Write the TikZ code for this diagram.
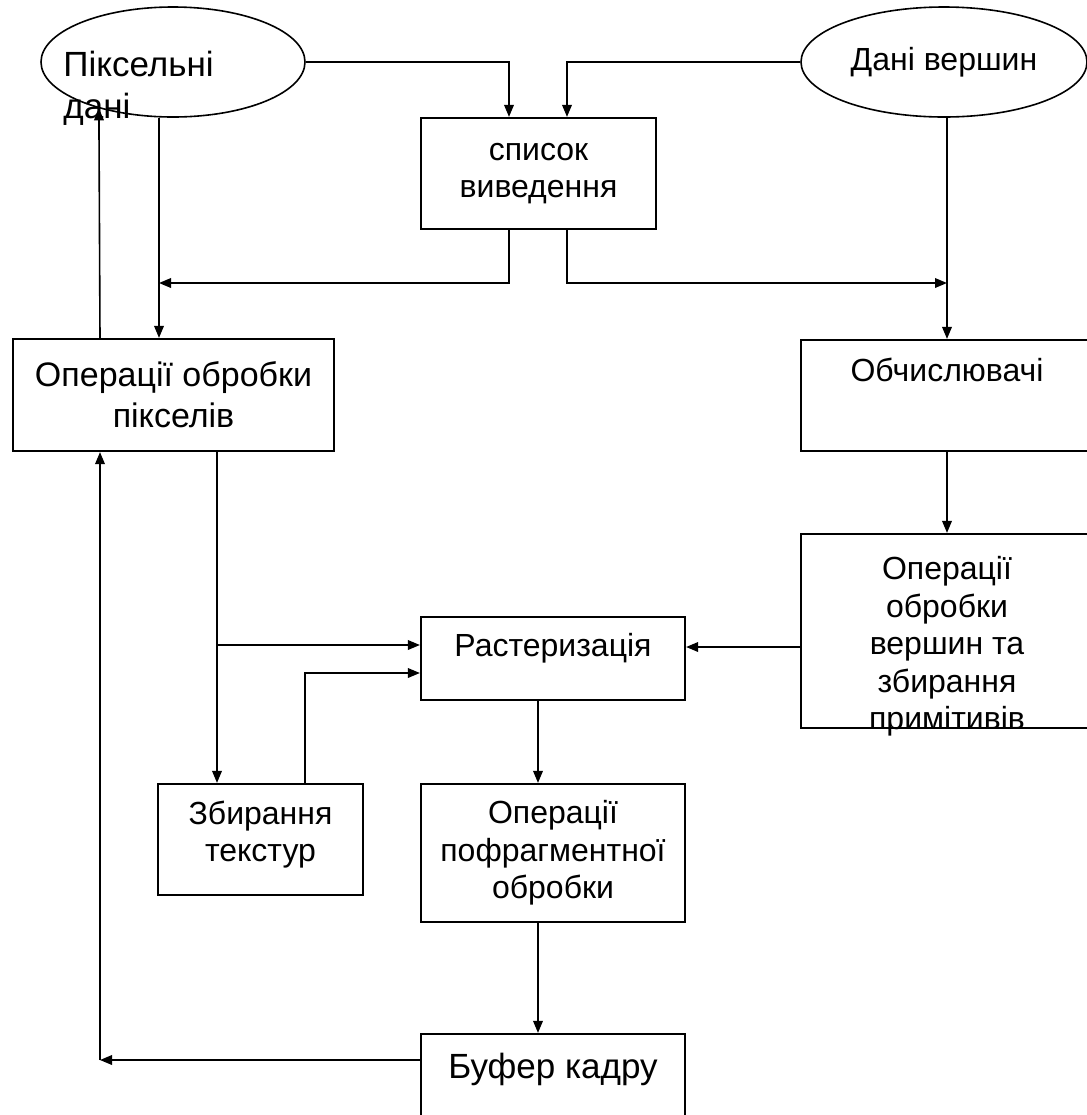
\documentclass[tikz,border=0pt]{standalone}
\usepackage{fontspec}
\setmainfont{Liberation Sans}
\usetikzlibrary{arrows.meta,shapes.geometric,calc}
\newcommand{\boxfont}{\fontsize{16pt}{18.75pt}\selectfont}
\newcommand{\bigboxfont}{\fontsize{17pt}{20.5pt}\selectfont}
\newcommand{\ovalfont}{\fontsize{17.5pt}{21pt}\selectfont}

\begin{document}
\begin{tikzpicture}[x=0.5pt,y=-0.5pt,font=\boxfont,
  >={Triangle[length=6pt,width=4.8pt]},
  blok/.style={draw,line width=1.1pt,align=center,inner sep=0pt},
  oval/.style={draw,ellipse,line width=0.8pt,inner sep=0pt,
    minimum height=55pt},
  link/.style={->,line width=0.8pt}]
  \useasboundingbox (0,0) rectangle (1087,1115);
  % sources
  \node[oval,minimum width=132pt] (pixdata) at (173,62) {};
  \node[anchor=north west,align=left,inner sep=0pt,font=\ovalfont]
    (pixtext) at (63,51) {Піксельні\\дані};
  \node[oval,minimum width=143pt] (vertdata) at (944,62) {Дані вершин};
  % blocks
  \node[blok,minimum width=117.5pt,minimum height=55.5pt] (spysok)
    at (538.5,173.5) {список\\виведення};
  \node[blok,font=\bigboxfont,minimum width=160.5pt,minimum height=56pt]
    (pixops) at (173.5,395) {Операції обробки\\пікселів};
  \node[blok,minimum width=146pt,minimum height=55.5pt,
    text height=12pt,text depth=26pt] (obch) at (947,395.5) {Обчислювачі};
  \node[blok,minimum width=146pt,minimum height=97pt,inner ysep=-9pt]
    (vertops) at (947,631)
    {\rule{0pt}{27pt}Операції\\обробки\\вершин та\\збирання\\примітивів};
  \node[blok,minimum width=132pt,minimum height=41.5pt,
    text height=12pt,text depth=14pt] (raster) at (553,658.5) {Растеризація};
  \node[blok,minimum width=102.5pt,minimum height=55.5pt] (textures)
    at (260.5,839.5) {Збирання\\текстур\rule[-8pt]{0pt}{1pt}};
  \node[blok,minimum width=132pt,minimum height=69pt] (frag)
    at (553,853) {Операції\\пофрагментної\\обробки};
  \node[blok,font=\ovalfont,minimum width=132pt,minimum height=50pt,
    text height=13pt,text depth=18.4pt] (buffer) at (553,1084) {Буфер кадру};
  % bends
  \coordinate (pixjoin) at (159,283);
  \coordinate (vertjoin) at (947,283);
  \coordinate (texx) at (217,645);
  \coordinate (texup) at (305,673);
  \coordinate (fragx) at (538,700);
  \coordinate (backx) at (100,1060);
  % connectors
  \draw[link] (pixdata.east) -| ($(spysok.north)+(-29.5,0)$);
  \draw[link] (vertdata.west) -| ($(spysok.north)+(28.5,0)$);
  \draw[link] ($(spysok.south)+(-29.5,0)$) |- (pixjoin);
  \draw[link] ($(spysok.south)+(28.5,0)$) |- (vertjoin);
  \draw[link] (pixdata.south -| pixjoin) -- (pixops.north -| pixjoin);
  \draw[link] (backx |- pixops.north) -- (pixdata.212);
  \draw[link] (vertdata.south -| obch.north) -- (obch.north);
  \draw[link] (obch.south) -- (vertops.north);
  \draw[link] ($(vertops.west)+(0,16)$) -- ($(vertops.west -| raster.east)+(0,16)$);
  \draw[link] (pixops.south -| texx) -- (textures.north -| texx);
  \draw[link] (texx) -- (texx -| raster.west);
  \draw[link] (textures.north -| texup) |- (texup -| raster.west);
  \draw[link] (raster.south -| fragx) -- (frag.north -| fragx);
  \draw[link] (frag.south -| fragx) -- (buffer.north -| fragx);
  \draw[link] (buffer.west |- backx) -- (backx);
  \draw[link] (backx) -- (backx |- pixops.south);
\end{tikzpicture}
\end{document}
